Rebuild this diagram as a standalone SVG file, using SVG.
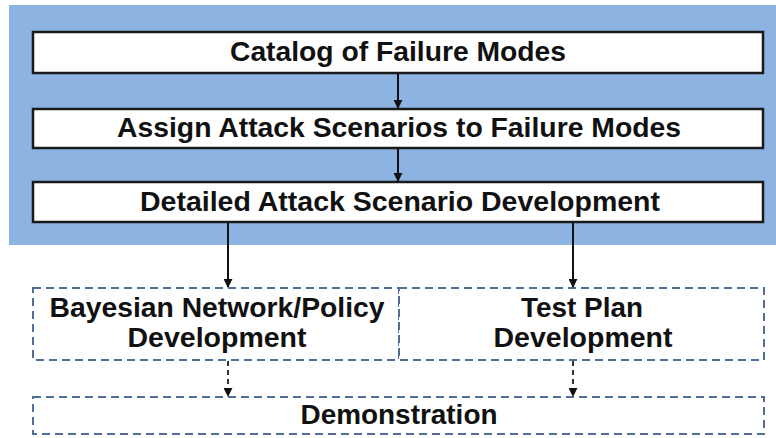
<svg xmlns="http://www.w3.org/2000/svg" width="776" height="438" viewBox="0 0 776 438">
  <style>
    .solid { fill: #ffffff; stroke: #1a1a1a; stroke-width: 2.5; }
    .dash { fill: #ffffff; stroke: #4f6e98; stroke-width: 2; stroke-dasharray: 8 5; }
    .lbl { font-family: "Liberation Sans", Arial, sans-serif; font-weight: bold; font-size: 27px; fill: #111111; text-anchor: middle; }
    .link { fill: none; stroke: #111111; stroke-width: 2; }
    .link-dash { fill: none; stroke: #333333; stroke-width: 2; stroke-dasharray: 5 4; }
  </style>
  <defs>
    <marker id="arrow" viewBox="0 0 10 10" refX="9" refY="5" markerWidth="4.5" markerHeight="4.5" orient="auto" markerUnits="strokeWidth">
      <path d="M0,0 L10,5 L0,10 Z" fill="#111111"/>
    </marker>
  </defs>

  <rect id="background" x="9" y="5" width="767" height="240" fill="#8db3e2"/>

  <g id="node-catalog">
    <rect class="solid" x="33" y="32" width="730" height="41"/>
    <text class="lbl" x="398" y="61" textLength="336" lengthAdjust="spacingAndGlyphs">Catalog of Failure Modes</text>
  </g>
  <g id="node-assign">
    <rect class="solid" x="33" y="109" width="730" height="39"/>
    <text class="lbl" x="399" y="137" textLength="564" lengthAdjust="spacingAndGlyphs">Assign Attack Scenarios to Failure Modes</text>
  </g>
  <g id="node-detailed">
    <rect class="solid" x="33" y="182" width="730" height="40"/>
    <text class="lbl" x="400" y="211" textLength="520" lengthAdjust="spacingAndGlyphs">Detailed Attack Scenario Development</text>
  </g>
  <g id="node-bayesian">
    <rect class="dash" x="33" y="288" width="366" height="72"/>
    <text class="lbl" x="217" y="317" textLength="335" lengthAdjust="spacingAndGlyphs">Bayesian Network/Policy</text>
    <text class="lbl" x="217" y="347" textLength="179" lengthAdjust="spacingAndGlyphs">Development</text>
  </g>
  <g id="node-testplan">
    <rect class="dash" x="399" y="288" width="365" height="72"/>
    <text class="lbl" x="582" y="317" textLength="122" lengthAdjust="spacingAndGlyphs">Test Plan</text>
    <text class="lbl" x="583" y="347" textLength="179" lengthAdjust="spacingAndGlyphs">Development</text>
  </g>
  <g id="node-demo">
    <rect class="dash" x="33" y="397" width="731" height="37"/>
    <text class="lbl" x="399" y="424" textLength="197" lengthAdjust="spacingAndGlyphs">Demonstration</text>
  </g>

  <g id="connectors">
    <line class="link" x1="398" y1="74" x2="398" y2="108" marker-end="url(#arrow)"/>
    <line class="link" x1="398" y1="149" x2="398" y2="181" marker-end="url(#arrow)"/>
    <line class="link" x1="228" y1="223" x2="228" y2="287" marker-end="url(#arrow)"/>
    <line class="link" x1="573" y1="223" x2="573" y2="287" marker-end="url(#arrow)"/>
    <line class="link-dash" x1="228" y1="361" x2="228" y2="396" marker-end="url(#arrow)"/>
    <line class="link-dash" x1="573" y1="361" x2="573" y2="396" marker-end="url(#arrow)"/>
  </g>
</svg>
